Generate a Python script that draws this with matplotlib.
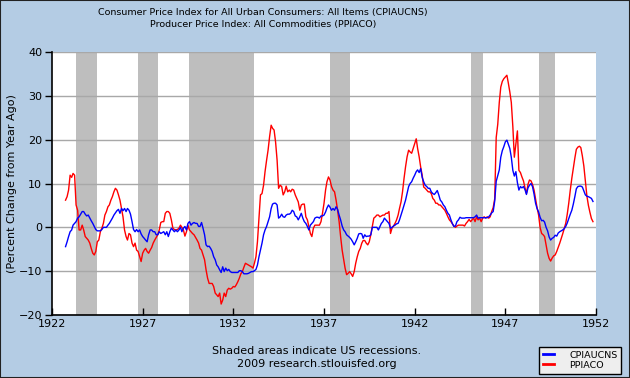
import matplotlib
matplotlib.use("Agg")
import matplotlib.pyplot as plt
from matplotlib.patches import Rectangle
import pandas as pd
from datetime import datetime

# ---------------- data (percent change from year ago, monthly, Oct 1922 - Nov 1951)
start_month = "1922-10-01"

ppi_1922 = [6.2, 7.0, 8.5]
ppi_1923 = [11.9, 11.4, 12.3, 11.9, 5.1, 3.9, -0.6, -0.6, 0.5, -0.6, -2.1, -2.5]
ppi_1924 = [-2.9, -3.6, -4.8, -5.9, -6.3, -5.5, -3.3, -2.9, -1.0, -0.2, 0.9, 2.8]
ppi_1925 = [3.6, 4.7, 5.1, 6.2, 7.0, 8.1, 8.9, 8.5, 7.4, 6.2, 4.3, 2.4]
ppi_1926 = [-0.6, -2.1, -2.9, -1.4, -1.7, -3.6, -4.4, -3.6, -5.2, -5.5, -6.7, -7.8]
ppi_1927 = [-5.9, -5.2, -4.8, -5.5, -5.9, -5.2, -4.6, -3.6, -2.9, -2.3, -1.7, -0.6]
ppi_1928 = [1.1, 1.3, 1.3, 3.2, 3.6, 3.6, 3.2, 1.7, -0.2, -0.5, -0.6, -0.5]
ppi_1929 = [-0.2, 0.5, 0.0, -0.6, -2.0, -1.0, 0.5, -0.6, -1.0, -1.4, -1.7, -2.3]
ppi_1930 = [-2.9, -3.6, -4.8, -5.2, -6.3, -7.4, -9.7, -11.6, -12.8, -12.8, -12.8, -13.5]
ppi_1931 = [-15.0, -15.4, -15.8, -15.0, -17.5, -16.6, -15.0, -15.8, -14.3, -13.9, -14.1, -13.9]
ppi_1932 = [-13.5, -13.6, -13.1, -12.4, -11.6, -10.6, -10.1, -9.1, -8.2, -8.4, -8.6, -8.8]
ppi_1933 = [-9.0, -9.3, -8.2, -6.7, -3.3, 2.1, 7.4, 7.7, 9.6, 12.7, 15.3, 17.6]
ppi_1934 = [20.7, 23.3, 22.6, 22.2, 19.5, 15.3, 8.9, 9.6, 9.3, 7.4, 8.1, 9.4]
ppi_1935 = [8.1, 8.5, 8.1, 8.7, 8.5, 7.4, 6.6, 5.8, 3.9, 5.1, 5.3, 5.3]
ppi_1936 = [2.4, 1.7, 0.2, -1.4, -2.1, -0.2, 0.5, 0.5, 0.5, 0.5, 1.3, 3.2]
ppi_1937 = [5.5, 8.5, 10.4, 11.5, 10.8, 9.3, 8.5, 8.1, 6.2, 3.9, 1.3, -2.1]
ppi_1938 = [-5.2, -7.4, -9.3, -10.8, -10.5, -10.1, -10.6, -11.2, -10.1, -8.2, -6.7, -5.5]
ppi_1939 = [-4.8, -3.6, -3.0, -3.0, -3.6, -4.0, -3.3, -1.7, 0.2, 2.1, 2.4, 2.8]
ppi_1940 = [2.8, 2.4, 2.6, 2.8, 2.8, 3.2, 3.2, 3.6, -1.4, -0.2, 0.3, 0.9]
ppi_1941 = [1.7, 2.8, 4.3, 5.8, 8.1, 11.2, 13.8, 16.1, 17.6, 17.2, 16.9, 18.0]
ppi_1942 = [19.1, 20.2, 18.0, 16.1, 13.8, 11.9, 9.2, 8.9, 8.5, 8.1, 8.1, 7.7]
ppi_1943 = [6.6, 6.2, 5.5, 5.5, 5.1, 5.1, 4.7, 4.3, 3.9, 3.2, 2.4, 1.7]
ppi_1944 = [1.3, 0.8, 0.3, 0.0, 0.3, 0.5, 0.5, 0.5, 0.5, 0.3, 0.9, 1.3]
ppi_1945 = [1.8, 1.3, 1.7, 2.1, 1.3, 2.4, 1.7, 2.1, 1.3, 2.1, 2.4, 2.1]
ppi_1946 = [2.4, 2.1, 2.4, 3.6, 4.5, 6.5, 20.5, 23.5, 28.5, 32.0, 33.3, 33.9]
ppi_1947 = [34.3, 34.7, 33.0, 30.9, 28.5, 23.0, 16.0, 19.0, 22.0, 13.0, 12.5, 11.5]
ppi_1948 = [10.6, 9.0, 7.7, 9.8, 10.8, 10.6, 9.8, 8.5, 6.5, 4.5, 2.8, 0.0]
ppi_1949 = [-1.4, -1.7, -2.1, -4.0, -5.9, -7.1, -7.7, -7.0, -6.5, -6.3, -5.5, -4.6]
ppi_1950 = [-3.6, -2.5, -1.5, -0.3, 0.9, 3.0, 5.5, 8.5, 11.2, 13.5, 15.8, 17.8]
ppi_1951 = [18.3, 18.5, 18.2, 16.3, 14.0, 10.5, 7.2, 5.0, 3.4, 2.0, 1.3]

cpi_1922 = [-4.4, -3.3, -2.1]
cpi_1923 = [-1.0, -0.6, 0.5, 0.9, 1.3, 2.1, 2.4, 3.0, 3.6, 3.6, 3.0, 2.6]
cpi_1924 = [2.8, 2.1, 1.5, 0.9, 0.2, -0.5, -0.8, -0.8, -0.8, -0.5, 0.0, 0.0]
cpi_1925 = [0.0, 0.5, 0.9, 1.5, 2.1, 2.8, 3.3, 3.8, 4.1, 3.2, 4.3, 3.8]
cpi_1926 = [4.3, 3.6, 4.3, 3.9, 3.0, 1.3, -0.5, -1.0, -0.5, -1.0, -0.6, -1.5]
cpi_1927 = [-2.1, -2.5, -2.9, -3.3, -1.7, -0.6, -0.6, -1.0, -1.0, -1.7, -1.7, -1.0]
cpi_1928 = [-1.4, -1.2, -1.0, -1.7, -1.0, -2.1, -1.0, -0.2, -0.6, -1.0, -0.6, -1.0]
cpi_1929 = [-0.6, 0.0, -1.0, -0.2, 0.2, -0.6, 0.9, 1.3, 0.5, 0.9, 1.1, 0.9]
cpi_1930 = [0.9, 0.2, 0.2, 1.1, -0.2, -1.7, -4.0, -4.4, -4.3, -4.8, -5.5, -6.7]
cpi_1931 = [-7.4, -8.6, -9.0, -9.7, -10.3, -9.0, -10.1, -9.3, -9.9, -9.6, -10.1, -10.3]
cpi_1932 = [-10.3, -10.3, -10.3, -10.3, -9.9, -9.9, -10.1, -10.6, -10.6, -10.6, -10.5, -10.3]
cpi_1933 = [-10.1, -10.1, -9.9, -9.6, -8.6, -6.7, -5.2, -3.6, -1.7, -0.6, 0.2, 1.3]
cpi_1934 = [2.4, 4.3, 5.3, 5.5, 5.5, 5.1, 2.1, 2.4, 3.0, 2.4, 2.3, 2.8]
cpi_1935 = [3.0, 3.0, 3.2, 3.9, 3.6, 2.6, 2.4, 1.7, 2.4, 3.2, 2.1, 1.3]
cpi_1936 = [0.9, 0.2, -0.6, 0.5, 0.9, 1.3, 2.1, 2.3, 2.3, 2.1, 2.6, 2.6]
cpi_1937 = [2.8, 3.5, 4.4, 5.1, 4.6, 3.9, 4.3, 3.9, 4.7, 4.1, 2.8, 1.7]
cpi_1938 = [0.3, -0.6, -1.0, -1.7, -2.0, -2.3, -2.7, -3.3, -4.0, -3.3, -2.5, -1.5]
cpi_1939 = [-1.4, -1.5, -2.5, -1.7, -2.1, -2.0, -2.0, -1.7, 0.0, 0.0, 0.0, 0.0]
cpi_1940 = [-0.6, 0.2, 0.9, 1.3, 2.1, 1.7, 1.3, 0.9, -0.2, 0.0, 0.3, 0.5]
cpi_1941 = [0.8, 0.9, 1.7, 2.8, 3.9, 5.1, 6.2, 7.7, 9.3, 10.0, 10.4, 11.2]
cpi_1942 = [11.9, 12.7, 13.1, 12.5, 13.4, 11.4, 10.4, 9.6, 9.3, 8.9, 8.9, 8.1]
cpi_1943 = [7.7, 7.5, 7.9, 8.4, 7.4, 6.2, 5.8, 5.1, 4.7, 3.9, 3.2, 2.8]
cpi_1944 = [1.7, 0.8, 0.2, 0.3, 1.3, 1.7, 2.3, 2.1, 2.1, 2.1, 2.2, 2.2]
cpi_1945 = [2.2, 2.2, 2.2, 2.2, 2.4, 2.8, 2.1, 2.2, 2.2, 2.2, 2.2, 2.2]
cpi_1946 = [2.2, 2.4, 2.8, 3.3, 3.6, 6.0, 10.5, 11.8, 13.1, 16.0, 17.5, 18.4]
cpi_1947 = [19.5, 19.9, 19.0, 18.0, 16.0, 13.0, 11.7, 12.7, 10.2, 8.5, 9.3, 9.0]
cpi_1948 = [9.3, 8.6, 7.5, 9.0, 9.6, 10.0, 9.3, 7.6, 5.5, 4.3, 3.5, 2.3]
cpi_1949 = [1.5, 1.6, 1.2, 0.0, -0.8, -2.2, -2.9, -2.5, -2.3, -1.8, -2.0, -1.3]
cpi_1950 = [-1.0, -0.8, -0.6, -0.3, 0.2, 1.0, 2.0, 3.0, 3.9, 5.3, 7.0, 8.8]
cpi_1951 = [9.3, 9.4, 9.4, 9.2, 8.3, 7.4, 7.1, 7.0, 6.8, 6.6, 5.9]

recessions = [("1923-05-01", "1924-07-01"), ("1926-10-01", "1927-11-01"),
              ("1929-08-01", "1933-03-01"), ("1937-05-01", "1938-06-01"),
              ("1945-02-01", "1945-10-01"), ("1948-11-01", "1949-10-01")]

tick_years = [1922, 1927, 1932, 1937, 1942, 1947, 1952]
y_ticks = [-20, -10, 0, 10, 20, 30, 40]

title_lines = ["Consumer Price Index for All Urban Consumers: All Items (CPIAUCNS)",
               "Producer Price Index: All Commodities (PPIACO)"]
footer_lines = ["Shaded areas indicate US recessions.", "2009 research.stlouisfed.org"]
series_names = ["CPIAUCNS", "PPIACO"]
y_label = "(Percent Change from Year Ago)"

# ---------------- assemble
ppi = sum([ppi_1922, ppi_1923, ppi_1924, ppi_1925, ppi_1926, ppi_1927, ppi_1928,
           ppi_1929, ppi_1930, ppi_1931, ppi_1932, ppi_1933, ppi_1934, ppi_1935,
           ppi_1936, ppi_1937, ppi_1938, ppi_1939, ppi_1940, ppi_1941, ppi_1942,
           ppi_1943, ppi_1944, ppi_1945, ppi_1946, ppi_1947, ppi_1948, ppi_1949,
           ppi_1950, ppi_1951], [])
cpi = sum([cpi_1922, cpi_1923, cpi_1924, cpi_1925, cpi_1926, cpi_1927, cpi_1928,
           cpi_1929, cpi_1930, cpi_1931, cpi_1932, cpi_1933, cpi_1934, cpi_1935,
           cpi_1936, cpi_1937, cpi_1938, cpi_1939, cpi_1940, cpi_1941, cpi_1942,
           cpi_1943, cpi_1944, cpi_1945, cpi_1946, cpi_1947, cpi_1948, cpi_1949,
           cpi_1950, cpi_1951], [])
dates = pd.date_range(start_month, periods=len(cpi), freq="MS")

BG = "#B4CCE4"
W, H = 630, 378
fig = plt.figure(figsize=(W / 100, H / 100), dpi=100)
fig.patch.set_facecolor(BG)

L, R, T, B = 52, 596, 52, 315
ax = fig.add_axes([L / W, 1 - B / H, (R - L) / W, (B - T) / H])
ax.set_facecolor("white")

for s, e in recessions:
    ax.axvspan(pd.Timestamp(s), pd.Timestamp(e), color="#BEBEBE", lw=0, zorder=1)

for yv in y_ticks:
    ax.axhline(yv, color="#A8A8A8", lw=1.0, zorder=2)

ax.plot(dates, cpi, color="#0000FF", lw=1.0, zorder=4, label=series_names[0])
ax.plot(dates, ppi, color="#FF0000", lw=1.0, zorder=3, label=series_names[1])

ax.set_xlim(datetime(1922, 1, 1), datetime(1952, 1, 1))
ax.set_ylim(-20, 40)
ax.set_yticks(y_ticks)
ax.set_xticks([datetime(y, 1, 1) for y in tick_years])
ax.set_xticklabels([str(y) for y in tick_years])

for side in ["top", "right"]:
    ax.spines[side].set_visible(False)
for side in ["left", "bottom"]:
    ax.spines[side].set_color("black")
    ax.spines[side].set_linewidth(1.2)
ax.tick_params(axis="y", direction="out", length=5, width=1, labelsize=8, pad=2, colors="black")
ax.tick_params(axis="x", direction="in", length=5, width=1, labelsize=8, pad=3, colors="black")
ax.set_ylabel(y_label, fontsize=8)
ax.yaxis.set_label_coords(-(L - 17) / (R - L), 0.5)

fig.text(263 / W, 1 - 12 / H, title_lines[0], ha="center", va="center", fontsize=6.8)
fig.text(263 / W, 1 - 25 / H, title_lines[1], ha="center", va="center", fontsize=6.8)
fig.text(317 / W, 1 - 351 / H, footer_lines[0], ha="center", va="center", fontsize=8)
fig.text(317 / W, 1 - 364 / H, footer_lines[1], ha="center", va="center", fontsize=8)

leg = ax.legend(loc="upper left", bbox_to_anchor=(539 / W, 1 - 347 / H), bbox_transform=fig.transFigure,
                fontsize=6.8, frameon=True, fancybox=False, edgecolor="black", facecolor="#EEEEEE",
                framealpha=1, handlelength=1.2, handletextpad=1.6, borderpad=0.4, labelspacing=0.1,
                borderaxespad=0)
leg.get_frame().set_linewidth(1.0)
leg._legend_box.sep = 4
for line in leg.get_lines():
    line.set_linewidth(2.0)

fig.add_artist(Rectangle((0, 0), 1, 1, transform=fig.transFigure, fill=False,
                         edgecolor="#222222", lw=1.5))

fig.savefig("out.png", dpi=100, facecolor=BG)
